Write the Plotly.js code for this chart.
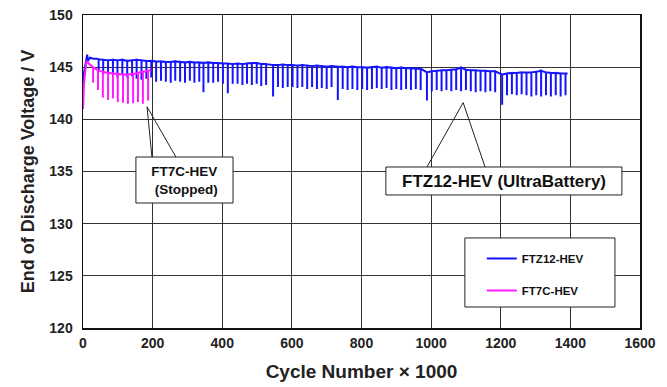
<!DOCTYPE html>
<html>
<head>
<meta charset="utf-8">
<script src="https://cdn.plot.ly/plotly-3.0.1.min.js"></script>
<style>html,body{margin:0;padding:0;background:#fff;}#chart{width:667px;height:387px;}</style>
</head>
<body>
<div id="chart"></div>
<script>
// ---- FTZ12-HEV (UltraBattery) ----
var ftzLeadCycle = [0, 2, 12, 14, 20, 30, 40];
var ftzLeadVolt  = [143.0, 144.3, 146.2, 145.6, 145.9, 145.8, 145.8];
var ftzSpikeCycle = [45,58,72,86,99,113,127,141,154,168,182,196,210,224,238,252,265,279,293,307,320,334,346,360,374,388,402,416,430,444,458,471,485,499,512,526,546,560,574,588,602,616,630,644,658,672,686,700,714,732,746,760,774,788,802,816,830,844,858,872,886,900,914,928,942,956,970,988,1002,1016,1030,1044,1058,1072,1086,1100,1114,1128,1142,1156,1170,1184,1204,1218,1232,1246,1260,1274,1288,1302,1316,1330,1344,1358,1372,1386];
var ftzTopVolt = [145.75,145.7,145.65,145.7,145.65,145.7,145.6,145.65,145.7,145.65,145.6,145.6,145.55,145.55,145.5,145.5,145.55,145.5,145.45,145.5,145.45,145.45,145.4,145.45,145.4,145.4,145.35,145.35,145.3,145.35,145.3,145.35,145.4,145.4,145.3,145.3,145.2,145.2,145.25,145.2,145.2,145.15,145.2,145.15,145.1,145.15,145.1,145.05,145.1,145.05,145.05,145.0,145.05,145.0,145.0,144.95,145.0,145.05,144.95,145.0,144.95,144.9,144.95,144.9,144.9,144.85,144.85,144.5,144.6,144.65,144.7,144.7,144.75,144.8,144.95,144.75,144.7,144.7,144.65,144.65,144.6,144.6,144.3,144.4,144.45,144.45,144.5,144.5,144.5,144.55,144.65,144.5,144.45,144.45,144.4,144.4];
var ftzLowVolt = [144.6,144.3,144.5,144.2,144.0,144.3,144.0,144.1,143.9,143.8,143.9,144.0,143.6,143.7,143.6,143.5,143.7,143.6,143.5,143.7,143.5,143.6,142.6,143.5,143.5,143.6,143.4,142.5,143.4,143.4,143.3,143.4,143.3,143.4,143.2,143.3,142.2,143.1,143.0,143.1,143.1,143.0,143.1,142.9,143.1,142.9,143.0,142.9,143.1,141.85,142.9,142.8,142.9,142.8,142.9,142.8,142.9,143.0,142.9,143.0,142.8,142.9,142.8,142.9,142.8,142.9,142.8,141.8,142.7,142.8,142.7,142.8,142.7,142.8,142.7,142.8,142.7,142.6,142.7,142.6,142.7,142.6,141.4,142.3,142.4,142.3,142.4,142.3,142.2,142.3,142.2,142.3,142.2,142.3,142.2,142.3];
var ftzTailCycle = [1392];
var ftzTailVolt  = [144.4];

// ---- FT7C-HEV (stopped) ----
var ft7LeadCycle = [0, 3, 10, 18];
var ft7LeadVolt  = [141.0, 143.5, 145.6, 145.3];
var ft7SpikeCycle = [29,43,57,72,86,100,115,129,144,158,172,187];
var ft7TopVolt = [145.0,144.7,144.55,144.45,144.4,144.35,144.3,144.3,144.35,144.45,144.55,144.65];
var ft7LowVolt = [143.5,142.8,142.1,141.85,142.0,141.65,141.6,141.5,141.55,141.65,141.5,141.8];
var ft7TailCycle = [196];
var ft7TailVolt  = [144.75];

var xTicks = [0,200,400,600,800,1000,1200,1400,1600];
var yTicks = [120,125,130,135,140,145,150];

function buildSeries(leadX, leadY, sx, top, low, tailX, tailY) {
  var x = leadX.slice(), y = leadY.slice();
  for (var i = 0; i < sx.length; i++) {
    x.push(sx[i], sx[i], sx[i]);
    y.push(top[i], low[i], top[i]);
  }
  return {x: x.concat(tailX), y: y.concat(tailY)};
}
var ftz = buildSeries(ftzLeadCycle, ftzLeadVolt, ftzSpikeCycle, ftzTopVolt, ftzLowVolt, ftzTailCycle, ftzTailVolt);
var ft7 = buildSeries(ft7LeadCycle, ft7LeadVolt, ft7SpikeCycle, ft7TopVolt, ft7LowVolt, ft7TailCycle, ft7TailVolt);

var FONT = 'Liberation Sans, Arial, sans-serif';
var traces = [
  {x: ftz.x, y: ftz.y, type: 'scatter', mode: 'lines', name: 'FTZ12-HEV', legendgroup: 'a',
   line: {color: '#1414ff', width: 2}},
  {x: ft7.x, y: ft7.y, type: 'scatter', mode: 'lines', name: 'FT7C-HEV', legendgroup: 'b',
   line: {color: '#ff1aff', width: 2}}
];

var axisCommon = {
  showgrid: true, gridcolor: '#333', gridwidth: 1,
  showline: true, mirror: true, linecolor: '#111', linewidth: 1.5,
  zeroline: false, ticks: '',
  tickfont: {family: FONT, size: 14, color: '#222', weight: 'bold'}
};

var layout = {
  width: 667, height: 387,
  margin: {l: 83, r: 27, t: 15, b: 59},
  paper_bgcolor: '#fff', plot_bgcolor: '#fff',
  showlegend: true,
  legend: {x: 0.716, y: 0.268, xanchor: 'left', yanchor: 'top',
    bgcolor: 'rgba(0,0,0,0)', borderwidth: 0, tracegroupgap: 13,
    font: {family: FONT, size: 11.5, color: '#111', weight: 'bold'}},
  xaxis: Object.assign({}, axisCommon, {
    range: [0, 1600], tickvals: xTicks, ticktext: xTicks.map(String),
    ticklabelstandoff: 2,
    title: {text: 'Cycle Number \u00d7 1000', standoff: 14,
      font: {family: FONT, size: 19, color: '#222', weight: 'bold'}}
  }),
  yaxis: Object.assign({}, axisCommon, {
    range: [120, 150], tickvals: yTicks, ticktext: yTicks.map(String),
    ticklabelstandoff: 6,
    title: {text: 'End of Discharge Voltage / V', standoff: 10,
      font: {family: FONT, size: 18, color: '#222', weight: 'bold'}}
  }),
  shapes: [
    // callout 1 : FT7C-HEV (Stopped)
    {type: 'path', xref: 'x', yref: 'y', path: 'M198,136.39 L184,141.2 L267,136.39',
     line: {color: '#222', width: 1}, layer: 'above'},
    {type: 'rect', xref: 'x', yref: 'y', x0: 152, x1: 431, y0: 131.98, y1: 136.39,
     fillcolor: '#fff', line: {color: '#222', width: 1}, layer: 'above'},
    // callout 2 : FTZ12-HEV (UltraBattery)
    {type: 'path', xref: 'x', yref: 'y', path: 'M988,135.43 L1092,141.6 L1155,135.43',
     line: {color: '#222', width: 1}, layer: 'above'},
    {type: 'rect', xref: 'x', yref: 'y', x0: 870, x1: 1548, y0: 132.75, y1: 135.43,
     fillcolor: '#fff', line: {color: '#222', width: 1}, layer: 'above'},
    // legend box
    {type: 'rect', xref: 'x', yref: 'y', x0: 1097, x1: 1528, y0: 122.01, y1: 128.63,
     fillcolor: '#fff', line: {color: '#222', width: 1}, layer: 'above'}
  ],
  annotations: [
    {xref: 'x', yref: 'y', x: 291, y: 134.18, text: 'FT7C-HEV<br> (Stopped)', showarrow: false,
     align: 'center', font: {family: FONT, size: 13.5, color: '#111', weight: 'bold'}},
    {xref: 'x', yref: 'y', x: 1209, y: 134.05, text: 'FTZ12-HEV (UltraBattery)', showarrow: false,
     font: {family: FONT, size: 17, color: '#111', weight: 'bold'}}
  ]
};

Plotly.newPlot('chart', traces, layout, {displayModeBar: false, staticPlot: true});
</script>
</body>
</html>
